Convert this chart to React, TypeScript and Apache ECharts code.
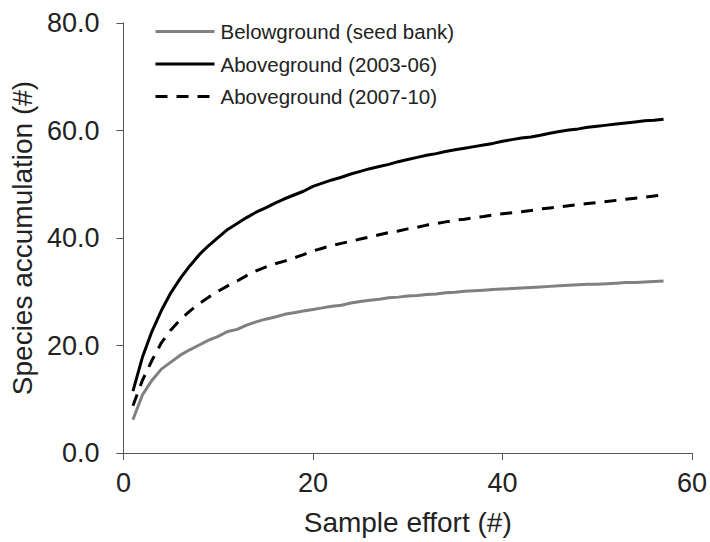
import React, { useEffect, useRef } from "react";
import * as echarts from "echarts";

const sampleEffort: number[] = Array.from({ length: 57 }, (_, i) => i + 1);

const belowground: number[] = [
  6.2, 10.8, 13.5, 15.6, 16.9, 18.2, 19.2, 20.1, 21.0, 21.7,
  22.6, 23.0, 23.8, 24.4, 24.9, 25.3, 25.8, 26.1, 26.4, 26.7,
  27.0, 27.3, 27.5, 27.9, 28.2, 28.4, 28.6, 28.9, 29.0, 29.2,
  29.3, 29.5, 29.6, 29.8, 29.9, 30.1, 30.2, 30.3, 30.4, 30.5,
  30.6, 30.7, 30.8, 30.9, 31.0, 31.1, 31.2, 31.3, 31.4, 31.4,
  31.5, 31.6, 31.7, 31.7, 31.8, 31.9, 32.0,
];

const above0306: number[] = [
  11.5, 17.8, 22.6, 26.5, 29.8, 32.5, 34.8, 36.9, 38.6, 40.1,
  41.6, 42.7, 43.8, 44.8, 45.6, 46.5, 47.3, 48.0, 48.7, 49.6,
  50.2, 50.8, 51.3, 51.9, 52.4, 52.9, 53.3, 53.7, 54.2, 54.6,
  55.0, 55.4, 55.7, 56.1, 56.4, 56.7, 57.0, 57.3, 57.6, 58.0,
  58.3, 58.6, 58.8, 59.1, 59.5, 59.8, 60.1, 60.3, 60.6, 60.8,
  61.0, 61.2, 61.4, 61.6, 61.8, 61.9, 62.1,
];

const above0710: number[] = [
  8.8, 13.5, 17.2, 20.5, 22.9, 24.8, 26.4, 27.8, 29.0, 30.1,
  31.1, 32.0, 33.0, 33.9, 34.6, 35.2, 35.7, 36.3, 36.9, 37.6,
  38.1, 38.6, 39.0, 39.4, 39.8, 40.2, 40.6, 41.0, 41.3, 41.7,
  42.0, 42.4, 42.7, 43.0, 43.3, 43.5, 43.8, 44.0, 44.3, 44.5,
  44.7, 44.9, 45.1, 45.4, 45.6, 45.8, 46.0, 46.2, 46.4, 46.6,
  46.8, 47.0, 47.2, 47.4, 47.6, 47.8, 48.0,
];

const seriesNames: string[] = [
  "Belowground (seed bank)",
  "Aboveground (2003-06)",
  "Aboveground (2007-10)",
];

const FONT = "'Liberation Sans', Arial, sans-serif";
const AXIS_COLOR = "#555555";
const TEXT_COLOR = "#222222";

function pairs(ys: number[]): number[][] {
  return sampleEffort.map((x, i) => [x, ys[i]]);
}

export default function App() {
  const ref = useRef<HTMLDivElement>(null);

  useEffect(() => {
    if (!ref.current) return;
    const chart = echarts.init(ref.current, null, { renderer: "svg" });
    chart.setOption({
      animation: false,
      backgroundColor: "#ffffff",
      grid: { left: 123, right: 17, top: 23, bottom: 89, containLabel: false },
      legend: {
        orient: "vertical",
        left: 149,
        top: 16,
        itemWidth: 59,
        itemHeight: 14,
        itemGap: 11.5,
        data: seriesNames,
        itemStyle: { opacity: 0 },
        lineStyle: { width: 3 },
        textStyle: { fontFamily: FONT, fontSize: 20.5, color: TEXT_COLOR, padding: [0, 0, 0, 1] },
      },
      xAxis: {
        type: "value",
        min: 0,
        max: 60,
        interval: 20,
        name: "Sample effort (#)",
        nameLocation: "middle",
        nameGap: 55,
        nameTextStyle: { fontFamily: FONT, fontSize: 28, color: TEXT_COLOR },
        axisLine: { show: true, onZero: false, lineStyle: { color: AXIS_COLOR, width: 1 } },
        axisTick: { show: true, length: 7, inside: false, lineStyle: { color: AXIS_COLOR } },
        axisLabel: { fontFamily: FONT, fontSize: 27, color: TEXT_COLOR, margin: 16 },
        splitLine: { show: false },
      },
      yAxis: {
        type: "value",
        min: 0,
        max: 80,
        interval: 20,
        name: "Species accumulation (#)",
        nameLocation: "middle",
        nameGap: 85,
        nameTextStyle: { fontFamily: FONT, fontSize: 28, color: TEXT_COLOR },
        axisLine: { show: true, lineStyle: { color: AXIS_COLOR, width: 1 } },
        axisTick: { show: true, length: 7, inside: false, lineStyle: { color: AXIS_COLOR } },
        axisLabel: {
          fontFamily: FONT,
          fontSize: 27,
          color: TEXT_COLOR,
          margin: 24,
          formatter: (v: number) => v.toFixed(1),
        },
        splitLine: { show: false },
      },
      series: [
        {
          name: seriesNames[0],
          type: "line",
          data: pairs(belowground),
          showSymbol: false,
          symbol: "none",
          lineStyle: { color: "#808080", width: 3 },
          itemStyle: { color: "#808080" },
        },
        {
          name: seriesNames[1],
          type: "line",
          data: pairs(above0306),
          showSymbol: false,
          symbol: "none",
          lineStyle: { color: "#000000", width: 3 },
          itemStyle: { color: "#000000" },
        },
        {
          name: seriesNames[2],
          type: "line",
          data: pairs(above0710),
          showSymbol: false,
          symbol: "none",
          lineStyle: { color: "#000000", width: 3, type: [12, 9] },
          itemStyle: { color: "#000000" },
        },
      ],
    });
    return () => chart.dispose();
  }, []);

  return <div ref={ref} style={{ width: 710, height: 542, position: "absolute", left: 0, top: 0 }} />;
}
